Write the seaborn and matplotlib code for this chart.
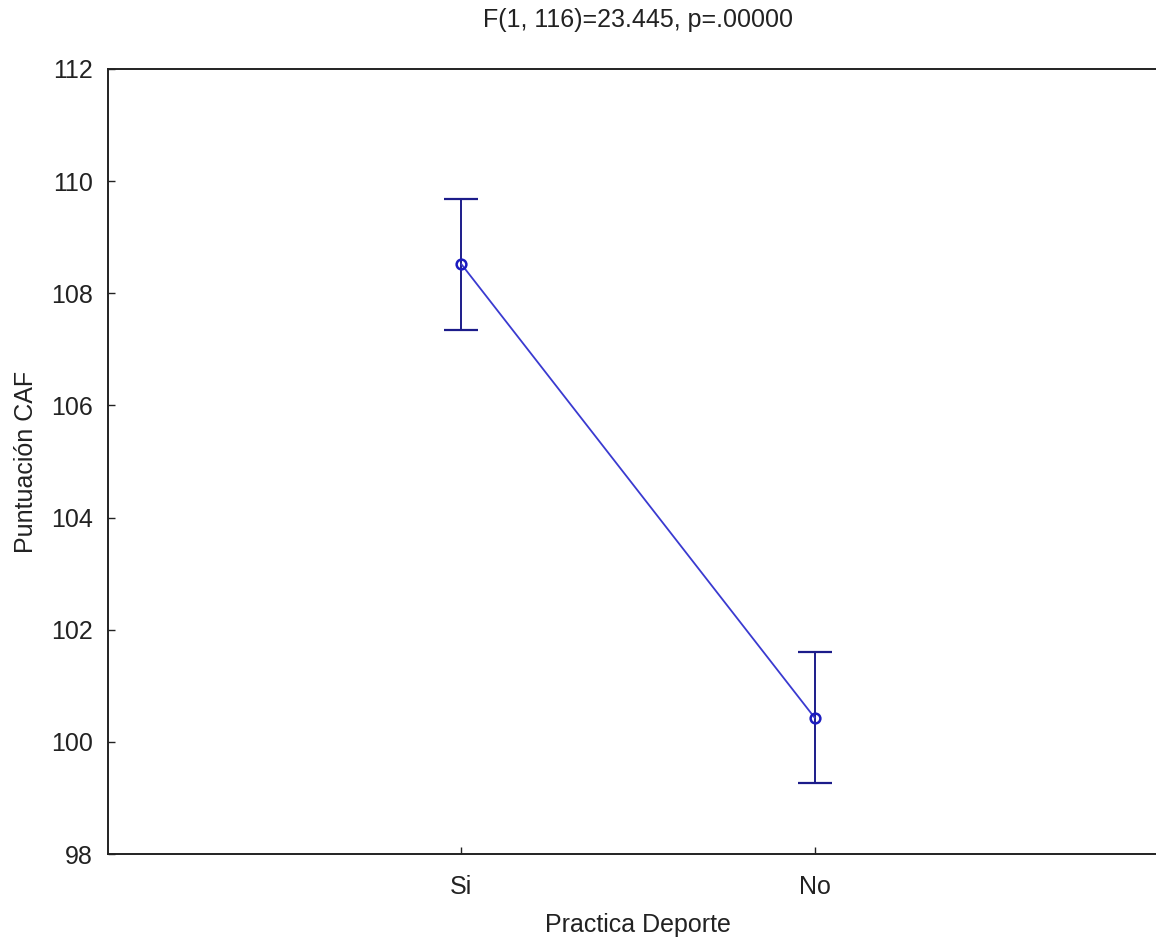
import matplotlib
matplotlib.use("Agg")
import matplotlib.pyplot as plt
import seaborn as sns
import pandas as pd

categories = ["Si", "No"]
means = [108.52, 100.43]
ci_half = [1.17, 1.17]
yticks = [98, 100, 102, 104, 106, 108, 110, 112]
title = "F(1, 116)=23.445, p=.00000"
xlabel = "Practica Deporte"
ylabel = "Puntuación CAF"

sns.set_style("white")
plt.rcParams["font.family"] = ["Liberation Sans", "DejaVu Sans"]

fig = plt.figure(figsize=(11.56, 9.48), dpi=100)
ax = fig.add_axes([108/1156, 94/948, 1060/1156, 785/948])

df = pd.DataFrame({"cat": categories, "mean": means})
line_col = "#3a3ad0"
err_col = "#1c1c8a"
sns.pointplot(data=df, x="cat", y="mean", order=categories, errorbar=None,
              color=line_col, markers="o", linestyles="-", ax=ax,
              markersize=7, markerfacecolor="none", markeredgecolor="#1c1cc0",
              markeredgewidth=1.8, linewidth=1.3)
ax.errorbar(x=[0, 1], y=means, yerr=ci_half, fmt="none", ecolor=err_col,
            elinewidth=1.4, capsize=12.5, capthick=1.6, zorder=1)

ax.set_xlim(-1, 2)
ax.set_ylim(98, 112)
ax.set_yticks(yticks)
ax.set_yticklabels([str(t) for t in yticks])
ax.tick_params(axis="both", direction="in", length=5, width=1, colors="#222222",
               labelsize=18, labelcolor="#222222")
ax.tick_params(axis="y", right=True, left=True, pad=11)
ax.tick_params(axis="x", bottom=True, pad=15)
for s in ax.spines.values():
    s.set_color("#222222")
    s.set_linewidth(1.4)

ax.set_xlabel(xlabel, fontsize=18, color="#222222", labelpad=10)
ax.set_ylabel(ylabel, fontsize=18, color="#222222", labelpad=9)
ax.set_title(title, fontsize=18, color="#222222", pad=30)

fig.savefig("out.png", dpi=100, facecolor="white")
